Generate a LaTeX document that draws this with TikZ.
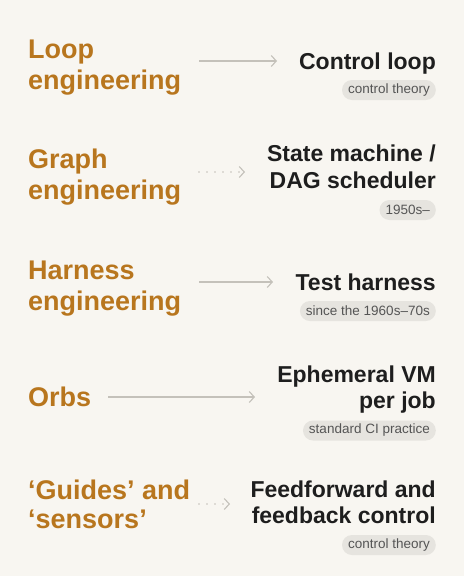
\documentclass[tikz,border=0pt]{standalone}
\usepackage{fontspec}
\setmainfont{Liberation Sans}
\usetikzlibrary{arrows.meta}
\definecolor{bg}{HTML}{F8F6F1}
\definecolor{ochre}{HTML}{B8761E}
\definecolor{ink}{HTML}{1E1E1E}
\definecolor{arrowgray}{HTML}{C4C1BA}
\definecolor{pillfill}{HTML}{E6E4DF}
\definecolor{pilltext}{HTML}{555555}
\tikzset{
  lefttext/.style={anchor=base west, inner sep=0pt, text=ochre, font=\fontsize{27}{30}\selectfont\bfseries},
  righttext/.style={anchor=base east, inner sep=0pt, text=ink, font=\fontsize{23}{26}\selectfont\bfseries},
  pill/.style={anchor=east, fill=pillfill, text=pilltext, rounded corners=10pt, minimum height=20pt, inner xsep=6pt, inner ysep=0pt, font=\fontsize{13.5}{14}\selectfont},
  solidarrow/.style={draw=arrowgray, line width=1.1pt, -{Straight Barb[length=5pt,width=11pt,line width=1.1pt]}},
  dotarrow/.style={draw=arrowgray, line width=1.8pt, line cap=round, dash pattern=on 0pt off 8pt, -{Straight Barb[length=5pt,width=11pt,line width=1.1pt,line cap=butt]}},
}
\begin{document}
\begin{tikzpicture}[x=1pt,y=-1pt]
\fill[bg] (0,0) rectangle (464,576);
\useasboundingbox (0,0) rectangle (464,576);
% Row 1
\node[lefttext] (l1a) at (28,58) {Loop};
\node[lefttext] (l1b) at (28,89) {engineering};
\node[righttext] (r1a) at (436,69) {Control loop};
\node[pill] (p1) at (436,90) {control theory};
\coordinate (a1s) at (199,61);
\coordinate (a1e) at (277,61);
\draw[solidarrow] (a1s) -- (a1e);
% Row 2
\node[lefttext] (l2a) at (28,168) {Graph};
\node[lefttext] (l2b) at (28,199) {engineering};
\node[righttext] (r2a) at (436,161) {State machine /};
\node[righttext] (r2b) at (436,188) {DAG scheduler};
\node[pill] (p2) at (436,210) {1950s–};
\coordinate (a2s) at (199,172);
\coordinate (a2e) at (245,172);
\draw[dotarrow] (a2s) -- (a2e);
% Row 3
\node[lefttext] (l3a) at (28,279) {Harness};
\node[lefttext] (l3b) at (28,310) {engineering};
\node[righttext] (r3a) at (436,290) {Test harness};
\node[pill] (p3) at (436,311) {since the 1960s–70s};
\coordinate (a3s) at (199,282);
\coordinate (a3e) at (273,282);
\draw[solidarrow] (a3s) -- (a3e);
% Row 4
\node[lefttext] (l4a) at (28,406) {Orbs};
\node[righttext] (r4a) at (436,382) {Ephemeral VM};
\node[righttext] (r4b) at (436,408) {per job};
\node[pill] (p4) at (436,430.5) {standard CI practice};
\coordinate (a4s) at (108,397);
\coordinate (a4e) at (255,397);
\draw[solidarrow] (a4s) -- (a4e);
% Row 5
\node[lefttext] (l5a) at (28,499) {‘Guides’ and};
\node[lefttext] (l5b) at (28,528) {‘sensors’};
\node[righttext] (r5a) at (436,497) {Feedforward and};
\node[righttext] (r5b) at (436,523) {feedback control};
\node[pill] (p5) at (436,545) {control theory};
\coordinate (a5s) at (199,504);
\coordinate (a5e) at (230,504);
\draw[dotarrow] (a5s) -- (a5e);
\end{tikzpicture}
\end{document}
